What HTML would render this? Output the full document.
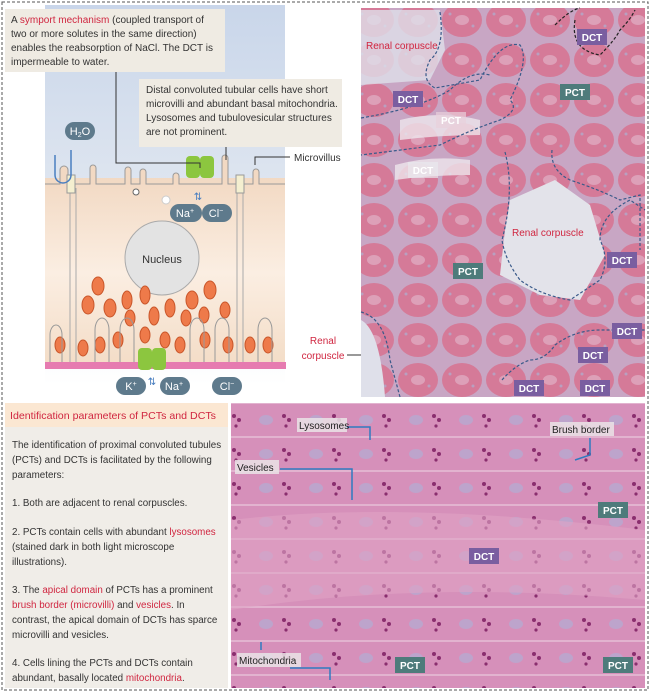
<!DOCTYPE html>
<html><head><meta charset="utf-8"><style>
html,body{margin:0;padding:0;background:#fff}
body{width:650px;height:692px;overflow:hidden;font-family:"Liberation Sans",sans-serif}
svg text{font-family:"Liberation Sans",sans-serif}
</style></head><body>
<svg width="650" height="692" viewBox="0 0 650 692" xmlns="http://www.w3.org/2000/svg">
<defs>
<linearGradient id="sky" x1="0" y1="0" x2="0" y2="1"><stop offset="0" stop-color="#c9d6ea"/><stop offset="0.5" stop-color="#dfe6f0"/><stop offset="1" stop-color="#ffffff"/></linearGradient>
<linearGradient id="cell" x1="0" y1="0" x2="0" y2="1"><stop offset="0" stop-color="#f2d9c3"/><stop offset="0.5" stop-color="#fbeee2"/><stop offset="1" stop-color="#f3dcc6"/></linearGradient>
<pattern id="tub" width="44" height="40" patternUnits="userSpaceOnUse">
<rect width="44" height="40" fill="#c8a6c4"/>
<ellipse cx="22" cy="20" rx="20" ry="17" fill="#d57a98"/>
<ellipse cx="22" cy="20" rx="7" ry="5" fill="#dda0b8"/>
<circle cx="10" cy="14" r="1.5" fill="#b9a0c0"/><circle cx="33" cy="26" r="1.5" fill="#b9a0c0"/>
</pattern>
<pattern id="hist" width="50" height="34" patternUnits="userSpaceOnUse">
<rect width="50" height="34" fill="#d690ba"/>
<ellipse cx="16" cy="12" rx="7" ry="5" fill="#bda4cc"/>
<circle cx="34" cy="8" r="2" fill="#8a2e6e"/><circle cx="39" cy="12" r="2" fill="#8a2e6e"/><circle cx="36" cy="18" r="1.6" fill="#8a2e6e"/>
<rect x="0" y="28" width="50" height="2" fill="#e2b3cf"/>
</pattern>
</defs>
<rect x="2" y="2" width="646" height="688" fill="#fff" stroke="#555" stroke-dasharray="3,2" stroke-width="1"/>
<!-- left diagram -->
<rect x="45" y="5" width="240" height="380" fill="url(#sky)"/>
<rect x="45" y="178" width="240" height="190" fill="url(#cell)"/>
<g stroke="#999" stroke-width="1" fill="#f2d9c3">
<path d="M45 184 H60 V170 a4 4 0 0 1 8 0 V184 H90 V168 a3 3 0 0 1 6 0 V184 H125 V170 a3 3 0 0 1 6 0 V184 H140 V172 a3 3 0 0 1 6 0 V184 H173 V176 a3 3 0 0 1 6 0 V184 H222 V158 a3 3 0 0 1 6 0 V184 H253 V172 a3 3 0 0 1 6 0 V184 H285"/>
</g>
<line x1="70" y1="188" x2="70" y2="362" stroke="#aaa"/><line x1="76" y1="188" x2="76" y2="362" stroke="#aaa"/>
<line x1="237" y1="188" x2="237" y2="362" stroke="#aaa"/><line x1="243" y1="188" x2="243" y2="362" stroke="#aaa"/>
<rect x="67" y="175" width="8" height="18" fill="#f4efd0" stroke="#999"/><rect x="236" y="175" width="8" height="18" fill="#f4efd0" stroke="#999"/>
<path d="M55 155 V175 a8 8 0 0 0 16 0 V150" fill="none" stroke="#4a7fc0" stroke-width="1.5"/>
<rect x="65" y="122" width="30" height="18" rx="9" fill="#5e7a8c"/><text x="80" y="135" font-size="11" fill="#fff" text-anchor="middle">H<tspan font-size="7" dy="2">2</tspan><tspan dy="-2">O</tspan></text>
<circle cx="162" cy="258" r="37" fill="#e3e3e3" stroke="#aaa"/><text x="162" y="263" font-size="11" text-anchor="middle" fill="#333">Nucleus</text>
<g fill="#ee7a4a" stroke="#c9562a">
<ellipse cx="98" cy="286" rx="6" ry="9"/><ellipse cx="88" cy="305" rx="6" ry="9"/><ellipse cx="110" cy="308" rx="6" ry="9"/><ellipse cx="127" cy="300" rx="5" ry="9"/><ellipse cx="145" cy="295" rx="5" ry="9"/><ellipse cx="130" cy="318" rx="5" ry="8"/><ellipse cx="154" cy="316" rx="5" ry="9"/><ellipse cx="170" cy="308" rx="5" ry="9"/><ellipse cx="192" cy="300" rx="6" ry="9"/><ellipse cx="210" cy="290" rx="6" ry="9"/><ellipse cx="186" cy="318" rx="5" ry="8"/><ellipse cx="204" cy="315" rx="5" ry="8"/><ellipse cx="225" cy="310" rx="5" ry="8"/><ellipse cx="60" cy="345" rx="5" ry="8"/><ellipse cx="83" cy="348" rx="5" ry="8"/><ellipse cx="100" cy="345" rx="5" ry="8"/><ellipse cx="118" cy="340" rx="5" ry="8"/><ellipse cx="145" cy="335" rx="5" ry="8"/><ellipse cx="165" cy="340" rx="5" ry="8"/><ellipse cx="180" cy="345" rx="5" ry="8"/><ellipse cx="205" cy="340" rx="5" ry="8"/><ellipse cx="228" cy="345" rx="5" ry="8"/><ellipse cx="250" cy="345" rx="5" ry="8"/><ellipse cx="268" cy="345" rx="5" ry="8"/>
</g>
<g fill="none" stroke="#999"><path d="M50 362 V335 a6 10 0 0 1 12 0 V362 M95 362 V330 a7 12 0 0 1 14 0 V362 M120 362 V330 a7 12 0 0 1 14 0 V362 M190 362 V330 a7 12 0 0 1 14 0 V362 M215 362 V330 a7 12 0 0 1 14 0 V362 M258 362 V330 a7 12 0 0 1 14 0 V362"/></g>
<rect x="45" y="362" width="241" height="7" fill="#e67bb0"/>
<rect x="138" y="348" width="14" height="22" rx="4" fill="#8cc63f"/><rect x="152" y="348" width="14" height="22" rx="4" fill="#8cc63f"/>
<rect x="186" y="156" width="14" height="22" rx="4" fill="#8cc63f"/><rect x="200" y="156" width="14" height="22" rx="4" fill="#8cc63f"/>
<circle cx="136" cy="192" r="3" fill="#fff" stroke="#666"/><circle cx="166" cy="200" r="4" fill="#fff" stroke="#ccc"/>
<text x="198" y="200" font-size="10" fill="#4a7fc0" text-anchor="middle">⇅</text>
<rect x="170" y="204" width="32" height="18" rx="9" fill="#5e7a8c"/><text x="185" y="217" font-size="11" fill="#fff" text-anchor="middle">Na<tspan font-size="7" dy="-4">+</tspan></text>
<rect x="202" y="204" width="30" height="18" rx="9" fill="#5e7a8c"/><text x="216" y="217" font-size="11" fill="#fff" text-anchor="middle">Cl<tspan font-size="7" dy="-4">−</tspan></text>
<text x="152" y="385" font-size="10" fill="#4a7fc0" text-anchor="middle">⇅</text>
<rect x="116" y="377" width="30" height="18" rx="9" fill="#5e7a8c"/><text x="131" y="390" font-size="11" fill="#fff" text-anchor="middle">K<tspan font-size="7" dy="-4">+</tspan></text>
<rect x="160" y="377" width="30" height="18" rx="9" fill="#5e7a8c"/><text x="174" y="390" font-size="11" fill="#fff" text-anchor="middle">Na<tspan font-size="7" dy="-4">+</tspan></text>
<rect x="212" y="377" width="30" height="18" rx="9" fill="#5e7a8c"/><text x="227" y="390" font-size="11" fill="#fff" text-anchor="middle">Cl<tspan font-size="7" dy="-4">−</tspan></text>
<rect x="5" y="9" width="220" height="63" fill="#efebe3"/>
<text font-size="10" fill="#333"><tspan x="11" y="23">A <tspan fill="#d02640">symport mechanism</tspan> (coupled transport of</tspan><tspan x="11" y="37">two or more solutes in the same direction)</tspan><tspan x="11" y="51">enables the reabsorption of NaCl. The DCT is</tspan><tspan x="11" y="65">impermeable to water.</tspan></text>
<path d="M116 72 V163 H200 V168" fill="none" stroke="#333"/>
<rect x="139" y="79" width="203" height="68" fill="#efebe3"/>
<text font-size="10" fill="#333"><tspan x="146" y="93">Distal convoluted tubular cells have short</tspan><tspan x="146" y="107">microvilli and abundant basal mitochondria.</tspan><tspan x="146" y="121">Lysosomes and tubulovesicular structures</tspan><tspan x="146" y="135">are not prominent.</tspan></text>
<line x1="226" y1="147" x2="226" y2="160" stroke="#333"/>
<path d="M255 165 V157 H290" fill="none" stroke="#333"/><text x="294" y="161" font-size="10" fill="#333">Microvillus</text>
<text x="323" y="344" font-size="10" fill="#d02640" text-anchor="middle">Renal</text><text x="323" y="359" font-size="10" fill="#d02640" text-anchor="middle">corpuscle</text>
<line x1="347" y1="355" x2="362" y2="355" stroke="#333"/>
<!-- top right micrograph -->
<rect x="361" y="8" width="284" height="389" fill="url(#tub)"/>
<path d="M361 10 H440 L445 50 L430 80 L361 85 Z" fill="#dfe0ea" opacity="0.8"/>
<path d="M510 200 L555 180 L590 205 L605 255 L580 300 L540 295 L500 275 L505 230 Z" fill="#e3e3ea"/>
<path d="M361 320 Q380 330 385 397 H361 Z" fill="#dfe0ea"/>
<path d="M400 120 Q440 110 480 120 L480 135 Q440 135 400 140 Z" fill="#eee6ec" opacity="0.8"/>
<path d="M395 165 Q430 155 470 160 L470 175 Q430 175 395 180 Z" fill="#eee6ec" opacity="0.8"/>
<g fill="none" stroke="#3a5a8a" stroke-dasharray="3,2" stroke-width="1.2">
<path d="M440 12 Q445 48 430 60 Q420 80 435 88 L480 80 Q500 40 520 45 Q530 60 510 100 Q520 110 500 120 Q470 130 440 145 L361 155"/>
<path d="M361 118 Q420 108 450 90 Q470 70 490 75"/>
<path d="M505 152 Q515 190 502 240 Q505 260 520 280 Q540 295 570 300 Q585 290 600 280 Q610 260 600 240 Q600 215 630 200 L645 210"/>
<path d="M552 150 Q550 170 570 180 Q600 190 620 200 L640 195 V250"/>
<path d="M361 312 Q385 318 390 360 L400 397"/>
<path d="M502 380 Q515 365 530 360 Q545 360 555 345 Q575 330 600 330 L645 330"/>
<path d="M555 25 Q570 10 580 8 M575 20 Q570 50 600 55 Q615 40 620 30 Q630 20 635 10" stroke="#222"/>
</g>
<text x="366" y="49" font-size="10" fill="#d02640">Renal corpuscle</text>
<text x="512" y="236" font-size="10" fill="#d02640">Renal corpuscle</text>
<g font-size="10" font-weight="bold" fill="#fff" text-anchor="middle">
<rect x="577" y="29" width="30" height="16" fill="#7a5ea0"/><text x="592" y="41">DCT</text>
<rect x="393" y="91" width="30" height="16" fill="#7a5ea0"/><text x="408" y="103">DCT</text>
<rect x="560" y="84" width="30" height="16" fill="#4e7b7b"/><text x="575" y="96">PCT</text>
<rect x="436" y="112" width="30" height="16" fill="#e8d0dc" opacity="0.7"/><text x="451" y="124">PCT</text>
<rect x="408" y="162" width="30" height="16" fill="#e8e8ee" opacity="0.7"/><text x="423" y="174">DCT</text>
<rect x="453" y="263" width="30" height="16" fill="#4e7b7b"/><text x="468" y="275">PCT</text>
<rect x="607" y="252" width="30" height="16" fill="#7a5ea0"/><text x="622" y="264">DCT</text>
<rect x="612" y="323" width="30" height="16" fill="#7a5ea0"/><text x="627" y="335">DCT</text>
<rect x="578" y="347" width="30" height="16" fill="#7a5ea0"/><text x="593" y="359">DCT</text>
<rect x="514" y="380" width="30" height="16" fill="#7a5ea0"/><text x="529" y="392">DCT</text>
<rect x="580" y="380" width="30" height="16" fill="#7a5ea0"/><text x="595" y="392">DCT</text>
</g>
<!-- bottom left text -->
<rect x="5" y="403" width="223" height="24" fill="#fbe7d2"/>
<text x="10" y="419" font-size="10.5" fill="#d02640" textLength="206" lengthAdjust="spacingAndGlyphs">Identification parameters of PCTs and DCTs</text>
<rect x="5" y="427" width="223" height="261" fill="#f0ede8"/>
<text font-size="9.8" fill="#333">
<tspan x="12" y="448">The identification of proximal convoluted tubules</tspan>
<tspan x="12" y="463">(PCTs) and DCTs is facilitated by the following</tspan>
<tspan x="12" y="478">parameters:</tspan>
<tspan x="12" y="506">1. Both are adjacent to renal corpuscles.</tspan>
<tspan x="12" y="535">2. PCTs contain cells with abundant <tspan fill="#d02640">lysosomes</tspan></tspan>
<tspan x="12" y="550">(stained dark in both light microscope</tspan>
<tspan x="12" y="565">illustrations).</tspan>
<tspan x="12" y="593">3. The <tspan fill="#d02640">apical domain</tspan> of PCTs has a prominent</tspan>
<tspan x="12" y="608"><tspan fill="#d02640">brush border (microvilli)</tspan> and <tspan fill="#d02640">vesicles</tspan>. In</tspan>
<tspan x="12" y="623">contrast, the apical domain of DCTs has sparce</tspan>
<tspan x="12" y="638">microvilli and vesicles.</tspan>
<tspan x="12" y="666">4. Cells lining the PCTs and DCTs contain</tspan>
<tspan x="12" y="681">abundant, basally located <tspan fill="#d02640">mitochondria</tspan>.</tspan>
</text>
<!-- bottom micrograph -->
<rect x="231" y="403" width="414" height="285" fill="url(#hist)"/>
<path d="M231 520 Q400 500 645 530 L645 600 Q420 580 231 610 Z" fill="#e0a4c4" opacity="0.6"/>
<g fill="none" stroke="#2f7ac0" stroke-width="1.5">
<path d="M345 427 H370 V440"/><path d="M590 438 V455 L575 460"/><path d="M280 469 H352 V500"/><path d="M261 642 V650 M290 668 H330 V680"/>
</g>
<g font-size="10" fill="#222">
<rect x="297" y="418" width="50" height="14" fill="#eae4e6" opacity="0.85"/><text x="299" y="429">Lysosomes</text>
<rect x="550" y="422" width="64" height="14" fill="#eae4e6" opacity="0.85"/><text x="552" y="433">Brush border</text>
<rect x="235" y="460" width="44" height="14" fill="#eae4e6" opacity="0.85"/><text x="237" y="471">Vesicles</text>
<rect x="237" y="653" width="64" height="14" fill="#eae4e6" opacity="0.85"/><text x="239" y="664">Mitochondria</text>
</g>
<g font-size="10" font-weight="bold" fill="#fff" text-anchor="middle">
<rect x="598" y="502" width="30" height="16" fill="#4e7b7b"/><text x="613" y="514">PCT</text>
<rect x="469" y="548" width="30" height="16" fill="#7a5ea0"/><text x="484" y="560">DCT</text>
<rect x="395" y="657" width="30" height="16" fill="#4e7b7b"/><text x="410" y="669">PCT</text>
<rect x="603" y="657" width="30" height="16" fill="#4e7b7b"/><text x="618" y="669">PCT</text>
</g>
</svg>
</body></html>
